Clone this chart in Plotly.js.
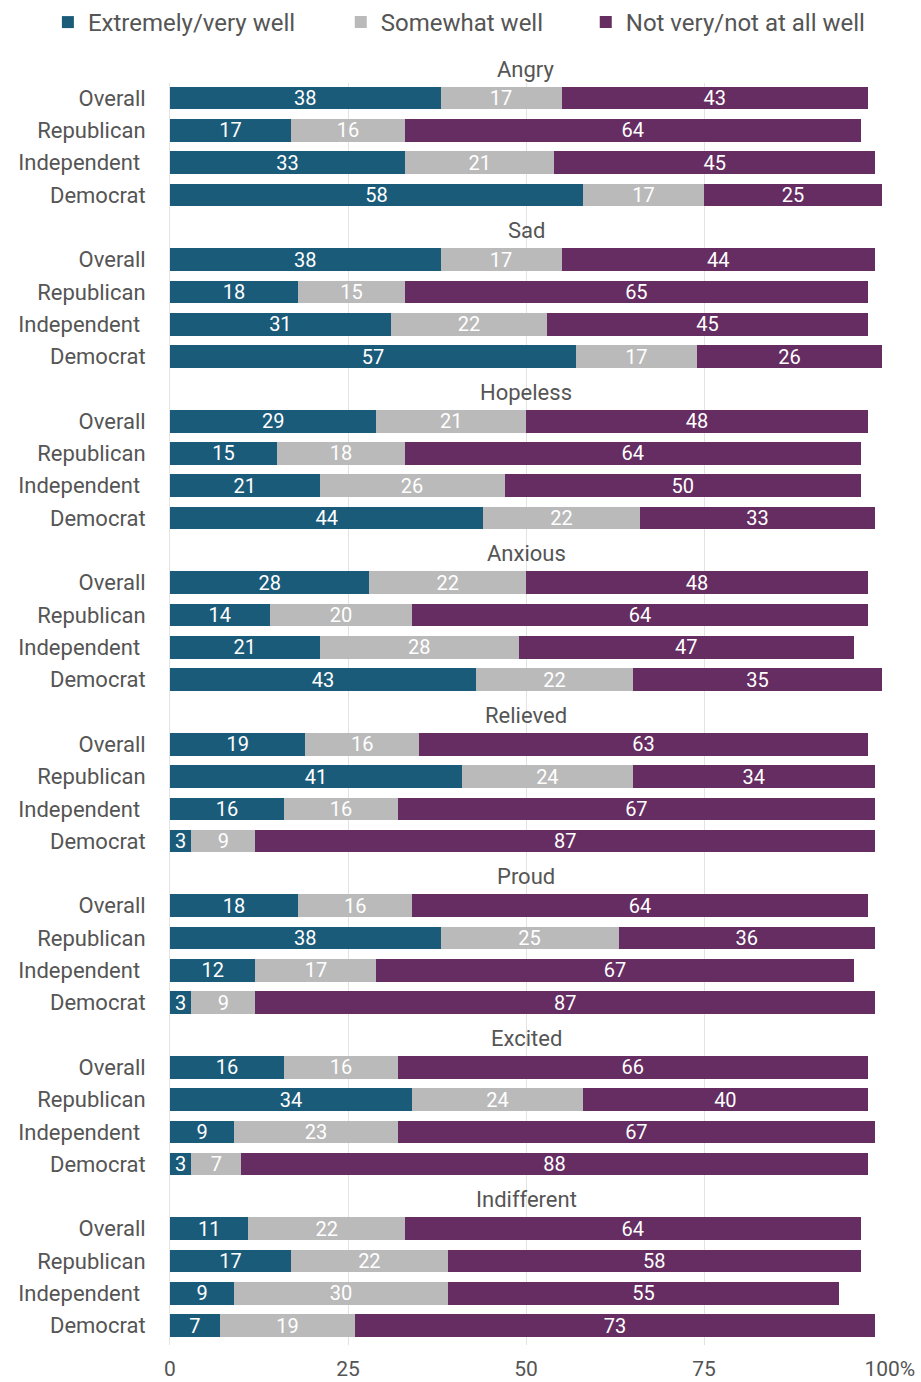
<!DOCTYPE html>
<html>
<head>
<meta charset="utf-8">
<script src="https://cdn.plot.ly/plotly-3.0.1.min.js"></script>
<style>html,body{margin:0;padding:0;background:#fff;}#chart{width:921px;height:1382px;}</style>
</head>
<body>
<div id="chart"></div>
<script>
// ---- data ----
const emotions = ["Angry","Sad","Hopeless","Anxious","Relieved","Proud","Excited","Indifferent"];
const parties = ["Overall","Republican","Independent\u00a0","Democrat"];
// values in order: emotion by emotion, parties in order above
const extremelyVeryWell = [38,17,33,58, 38,18,31,57, 29,15,21,44, 28,14,21,43, 19,41,16,3, 18,38,12,3, 16,34,9,3, 11,17,9,7];
const somewhatWell      = [17,16,21,17, 17,15,22,17, 21,18,26,22, 22,20,28,22, 16,24,16,9, 16,25,17,9, 16,24,23,7, 22,22,30,19];
const notVeryWell       = [43,64,45,25, 44,65,45,26, 48,64,50,33, 48,64,47,35, 63,34,67,87, 64,36,67,87, 66,40,67,88, 64,58,55,73];
const seriesNames = ["Extremely/very well","Somewhat well","Not very/not at all well"];
const xTickVals = [0,25,50,75,100];
const xTickText = ["0","25","50","75","\u00a0\u00a0\u00a0100%"];

// ---- layout helpers ----
const slotsPerGroup = parties.length + 1;
const yPos = [], yLabels = [];
emotions.forEach((e, g) => {
  parties.forEach((p, r) => { yPos.push(g * slotsPerGroup + r + 1); yLabels.push(p); });
});

const colors = ["#1b5b7a", "#bababa", "#652d62"];
const legendIds = ["legend", "legend2", "legend3"];
const legendX = [0.052, 0.370, 0.636];
const seriesVals = [extremelyVeryWell, somewhatWell, notVeryWell];

const traces = seriesVals.map((vals, i) => ({
  type: "bar",
  orientation: "h",
  name: seriesNames[i],
  legend: legendIds[i],
  x: vals,
  y: yPos,
  text: vals.map(String),
  textposition: "inside",
  insidetextanchor: "middle",
  textangle: 0,
  constraintext: "none",
  textfont: {family: "Roboto, sans-serif", size: 20, color: "#ffffff"},
  marker: {color: colors[i], line: {width: 0}},
  width: 0.7,
  hoverinfo: "skip"
}));

// group titles: anchored on each group's first row, shifted up one row
const annotations = emotions.map((e, g) => ({
  x: 50, y: g * slotsPerGroup + 1, xref: "x", yref: "y",
  yshift: 29,
  text: e, showarrow: false,
  font: {family: "Roboto, sans-serif", size: 22, color: "#555555"},
  xanchor: "center", yanchor: "middle"
}));

const layout = {
  width: 921, height: 1382,
  margin: {l: 170, r: 39, t: 83, b: 37},
  barmode: "stack",
  paper_bgcolor: "#ffffff",
  plot_bgcolor: "#ffffff",
  font: {family: "Roboto, sans-serif", color: "#555555"},
  showlegend: true,
  xaxis: {
    range: [0, 100],
    tickvals: xTickVals,
    ticktext: xTickText,
    showgrid: true,
    gridcolor: "#e3e3e3",
    gridwidth: 1,
    zeroline: false,
    showline: false,
    ticks: "outside", ticklen: 5, tickcolor: "rgba(0,0,0,0)",
    tickfont: {family: "Roboto, sans-serif", size: 21, color: "#555555"},
    fixedrange: true
  },
  yaxis: {
    range: [39.6, 0.53],
    tickvals: yPos,
    ticktext: yLabels,
    showgrid: false,
    zeroline: false,
    showline: true, linecolor: "#e3e3e3", linewidth: 1,
    ticks: "outside", ticklen: 19, tickcolor: "rgba(0,0,0,0)",
    tickfont: {family: "Roboto, sans-serif", size: 22, color: "#555555"},
    fixedrange: true
  },
  annotations: annotations
};

legendIds.forEach((id, i) => {
  layout[id] = {
    orientation: "h",
    xref: "container", yref: "container",
    x: legendX[i], xanchor: "left",
    y: 1, yanchor: "top",
    font: {family: "Roboto, sans-serif", size: 24, color: "#555555"},
    itemwidth: 30,
    bgcolor: "rgba(0,0,0,0)"
  };
});

Plotly.newPlot("chart", traces, layout, {displayModeBar: false, staticPlot: true});
</script>
</body>
</html>
